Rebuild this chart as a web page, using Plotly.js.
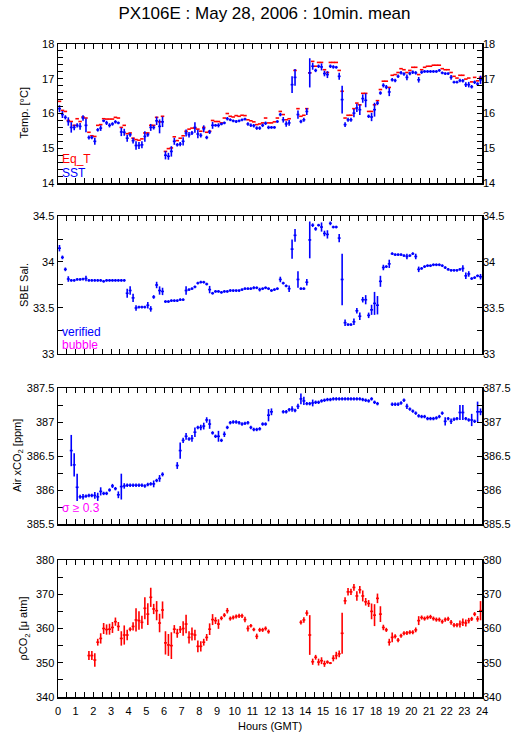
<!DOCTYPE html>
<html><head><meta charset="utf-8">
<script src="https://cdn.plot.ly/plotly-3.0.1.min.js"></script>
<style>html,body{margin:0;padding:0;background:#fff}#plot{width:529px;height:739px}</style>
</head><body><div id="plot"></div>
<script>
// 10-minute bins: centre time of each bin, minutes after 00:00 GMT
const minutes = [5,15,25,35,45,55,65,75,85,95,105,115,125,135,145,155,165,175,185,195,205,215,225,235,245,255,265,275,285,295,305,315,325,335,345,355,365,375,385,395,405,415,425,435,445,455,465,475,485,495,505,515,525,535,545,555,565,575,585,595,605,615,625,635,645,655,665,675,685,695,705,715,725,735,745,755,765,775,785,795,805,815,825,835,845,855,865,875,885,895,905,915,925,935,945,955,965,975,985,995,1005,1015,1025,1035,1045,1055,1065,1075,1085,1095,1105,1115,1125,1135,1145,1155,1165,1175,1185,1195,1205,1215,1225,1235,1245,1255,1265,1275,1285,1295,1305,1315,1325,1335,1345,1355,1365,1375,1385,1395,1405,1415,1425,1435];

const eqT = [16.35,16.09,16.06,15.80,15.77,15.66,15.85,15.77,15.90,15.87,15.46,15.36,15.34,15.66,15.68,15.85,15.84,15.84,15.84,15.89,15.87,15.60,15.66,15.42,15.44,15.29,15.25,15.23,15.27,15.44,15.44,15.66,15.66,15.89,15.76,15.92,14.91,14.99,15.01,15.33,15.22,15.29,15.36,15.49,15.55,15.58,15.58,15.55,15.49,15.60,15.46,15.49,15.80,15.77,15.77,15.73,15.87,16.00,15.92,15.90,15.94,15.92,15.95,15.94,15.82,15.79,15.76,15.68,15.70,15.73,15.87,15.73,15.73,15.76,15.87,16.06,15.97,15.82,15.85,null,17.24,16.14,15.92,15.95,16.14,17.17,17.50,17.36,17.47,17.47,17.26,17.18,17.47,17.47,17.47,17.24,16.64,15.87,15.95,15.95,16.14,16.30,16.25,16.58,16.58,16.06,16.06,16.25,16.37,16.69,16.93,16.93,16.75,17.10,17.12,17.18,17.29,17.26,17.18,17.24,17.33,17.33,17.12,17.26,17.33,17.36,17.36,17.39,17.39,17.39,17.29,17.26,17.26,17.18,17.07,17.02,17.10,17.10,16.99,17.02,16.91,17.04,16.94,17.04];

const sst = [16.14,15.97,15.89,15.77,15.60,15.60,15.66,15.63,15.87,15.66,15.31,15.31,15.20,15.53,15.58,15.79,15.73,15.66,15.70,15.76,15.73,15.47,15.46,15.29,15.39,15.22,15.08,15.08,15.10,15.34,15.39,15.60,15.60,15.79,15.63,15.76,14.80,14.77,14.91,15.20,15.10,15.12,15.20,15.44,15.39,15.44,15.60,15.41,15.37,15.56,15.31,15.47,15.66,15.66,15.66,15.70,15.73,15.85,15.82,15.79,15.77,15.79,15.82,15.84,15.70,15.66,15.65,15.58,15.58,15.66,15.72,15.60,15.60,15.60,15.77,15.97,15.82,15.70,15.73,16.83,17.04,15.97,15.77,15.82,16.06,17.17,17.36,17.24,17.36,17.34,17.15,17.12,17.36,17.34,17.33,17.07,16.40,15.68,15.82,15.82,16.01,16.16,16.11,16.43,16.38,15.92,15.90,16.11,16.30,16.59,16.81,16.76,16.62,16.97,16.95,17.07,17.17,17.14,17.04,17.15,17.19,17.17,16.97,17.19,17.21,17.21,17.21,17.21,17.21,17.24,17.17,17.15,17.15,17.04,16.90,16.90,16.95,16.94,16.83,16.83,16.77,16.90,16.85,16.97];

const sstErr = [0.10,0.10,0.06,0.12,0.15,0.08,0.06,0.10,0.08,0.20,0.06,0.05,0.10,0.05,0.08,0.04,0.06,0.06,0.05,0.05,0.04,0.12,0.10,0.10,0.06,0.08,0.12,0.10,0.10,0.15,0.06,0.10,0.06,0.12,0.20,0.15,0.12,0.10,0.15,0.10,0.05,0.06,0.12,0.10,0.08,0.06,0.15,0.12,0.06,0.10,0.05,0.06,0.10,0.04,0.06,0.04,0.04,0.05,0.04,0.04,0.04,0.04,0.04,0.04,0.05,0.05,0.05,0.05,0.05,0.05,0.05,0.05,0.04,0.04,0.04,0.05,0.08,0.08,0.08,0.24,0.24,0.12,0.05,0.06,0.10,0.42,0.10,0.05,0.05,0.10,0.08,0.10,0.05,0.05,0.04,0.10,0.40,0.07,0.06,0.06,0.12,0.12,0.15,0.12,0.20,0.05,0.12,0.20,0.06,0.05,0.06,0.06,0.12,0.05,0.05,0.05,0.05,0.05,0.08,0.05,0.05,0.05,0.08,0.05,0.04,0.04,0.04,0.04,0.04,0.04,0.04,0.04,0.04,0.07,0.04,0.04,0.05,0.05,0.07,0.08,0.05,0.05,0.05,0.12];

const sal = [34.15,34.05,33.92,33.815,33.80,33.80,33.81,33.81,33.815,33.82,33.80,33.80,33.80,33.80,33.80,33.79,33.80,33.80,33.80,33.80,33.80,33.80,33.80,33.66,33.69,33.61,33.50,33.51,33.51,33.51,33.53,33.49,33.62,33.75,33.69,33.68,33.57,33.57,33.58,33.58,33.58,33.59,33.59,33.69,33.70,33.71,33.73,33.77,33.78,33.78,33.76,33.70,33.66,33.68,33.68,33.67,33.68,33.68,33.69,33.69,33.69,33.69,33.70,33.71,33.71,33.71,33.72,33.72,33.70,33.71,33.72,33.71,33.69,33.70,33.71,33.81,33.77,33.74,33.71,34.14,34.29,33.81,33.71,33.71,33.78,34.24,34.40,34.36,34.40,34.38,34.31,34.30,34.42,34.38,34.38,34.26,33.81,33.34,33.32,33.32,33.35,33.47,33.41,33.59,33.59,33.42,33.48,33.55,33.53,33.79,33.94,33.95,33.98,34.09,34.08,34.08,34.08,34.07,34.06,34.07,34.09,34.06,33.92,33.93,33.95,33.96,33.96,33.97,33.97,33.97,33.96,33.94,33.92,33.91,33.91,33.91,33.92,33.93,33.85,33.87,33.82,33.83,33.85,33.84];

const salErr = [0.035,0.02,0.02,0.03,0.015,0.015,0.015,0.015,0.015,0.03,0.015,0.015,0.015,0.015,0.015,0.015,0.015,0.015,0.015,0.015,0.015,0.015,0.015,0.05,0.045,0.045,0.03,0.015,0.015,0.015,0.035,0.03,0.02,0.035,0.045,0.04,0.015,0.015,0.015,0.015,0.015,0.015,0.015,0.045,0.015,0.015,0.015,0.015,0.015,0.015,0.015,0.04,0.015,0.015,0.015,0.015,0.015,0.015,0.015,0.015,0.015,0.015,0.015,0.015,0.015,0.015,0.015,0.015,0.02,0.015,0.015,0.015,0.015,0.015,0.015,0.03,0.015,0.015,0.035,0.105,0.07,0.09,0.015,0.015,0.035,0.2,0.02,0.02,0.015,0.05,0.03,0.045,0.02,0.015,0.015,0.045,0.28,0.035,0.015,0.015,0.035,0.03,0.04,0.03,0.05,0.03,0.055,0.125,0.1,0.06,0.03,0.015,0.045,0.015,0.015,0.015,0.015,0.015,0.03,0.015,0.015,0.03,0.03,0.015,0.015,0.015,0.015,0.015,0.015,0.015,0.015,0.015,0.015,0.015,0.015,0.015,0.015,0.035,0.035,0.03,0.015,0.015,0.015,0.03];

const xco2 = [null,null,null,null,386.58,386.37,386.04,385.90,385.90,385.91,385.92,385.92,385.92,385.90,385.98,385.95,385.95,386.00,386.06,386.02,385.93,386.05,386.06,386.07,386.07,386.07,386.07,386.07,386.07,386.06,386.08,386.09,386.09,386.14,386.17,386.23,null,null,null,null,386.36,386.58,386.73,386.79,386.75,386.76,386.85,386.92,386.92,386.94,387.03,386.97,386.84,386.79,386.79,386.73,386.82,386.92,386.99,387.00,387.00,386.99,386.97,386.98,386.99,386.92,386.89,386.89,386.90,386.97,386.97,387.10,387.15,null,null,null,387.15,387.15,387.18,387.19,387.17,387.23,387.34,387.31,387.27,387.27,387.28,387.29,387.29,387.31,387.32,387.33,387.33,387.34,387.34,387.34,387.34,387.34,387.34,387.34,387.34,387.34,387.34,387.33,387.32,387.31,387.34,387.29,387.27,null,null,null,null,387.26,387.26,387.26,387.28,387.32,387.23,387.19,387.16,387.13,387.09,387.08,387.08,387.05,387.05,387.05,387.06,387.08,387.13,387.01,387.05,387.01,387.04,387.05,387.14,387.14,387.05,387.03,387.03,387.01,387.15,387.15];

const xco2Err = [0,0,0,0,0.23,0.17,0.2,0.03,0.04,0.025,0.025,0.025,0.05,0.06,0.06,0.025,0.025,0.025,0.03,0.025,0.05,0.19,0.04,0.025,0.025,0.025,0.025,0.025,0.025,0.025,0.025,0.025,0.05,0.025,0.05,0.03,0,0,0,0,0.05,0.12,0.04,0.05,0.025,0.05,0.07,0.025,0.04,0.05,0.04,0.07,0.025,0.025,0.08,0.025,0.04,0.025,0.025,0.025,0.025,0.025,0.025,0.025,0.025,0.025,0.025,0.025,0.025,0.025,0.025,0.09,0.05,0,0,0,0.025,0.025,0.025,0.04,0.025,0.04,0.08,0.06,0.025,0.025,0.05,0.025,0.025,0.025,0.025,0.025,0.025,0.025,0.025,0.025,0.025,0.025,0.025,0.025,0.025,0.025,0.025,0.025,0.025,0.025,0.025,0.025,0.025,0,0,0,0,0.025,0.025,0.025,0.025,0.025,0.04,0.025,0.025,0.025,0.025,0.025,0.025,0.025,0.025,0.025,0.025,0.025,0.025,0.06,0.025,0.04,0.025,0.025,0.11,0.11,0.025,0.025,0.09,0.025,0.15,0.05];

const pco2 = [null,null,null,null,null,null,null,null,null,null,352.1,352.1,350.8,356.0,357.1,360.0,359.7,359.8,360.3,362.0,360.6,357.1,358.1,358.1,359.8,360.6,362.5,362.3,361.8,365.9,364.2,369.1,365.7,365.2,361.6,365.4,355.8,355.2,355.0,359.8,358.6,359.7,360.0,361.3,357.4,358.4,358.1,354.8,354.8,356.0,357.4,359.8,362.6,362.3,361.3,363.0,363.9,365.2,362.9,363.2,363.5,363.7,363.7,362.6,360.0,360.8,359.7,357.7,359.6,359.6,360.0,359.1,null,null,null,null,null,null,null,null,null,null,361.8,362.5,364.5,358.1,350.3,351.6,350.2,350.6,349.7,350.2,349.9,351.3,352.1,352.6,358.6,368.1,370.7,370.7,372.0,369.5,371.3,369.5,367.8,367.3,365.0,363.9,368.8,364.2,360.3,359.6,356.0,357.4,357.7,356.6,357.9,358.6,358.7,358.9,358.9,359.6,362.3,363.2,362.9,363.2,363.4,362.9,362.6,362.6,362.0,362.6,362.8,361.8,361.0,361.0,361.3,361.8,361.6,362.3,362.8,364.2,362.8,365.2];

const pco2Err = [0,0,0,0,0,0,0,0,0,0,1.3,1.3,2.0,1.0,1.5,1.6,1.5,1.6,1.6,1.2,1.3,2.1,2.8,1.5,0.6,1.2,3.4,2.7,1.9,3.2,3.2,2.8,1.5,2.8,2.7,2.5,3.4,3.2,3.9,1.2,1.3,1.0,2.1,2.7,1.8,1.9,1.5,1.7,1.5,1.0,1.0,1.7,1.6,1.0,1.4,0.6,0.6,0.8,0.6,0.6,0.6,0.6,0.6,0.8,0.9,0.5,0.5,0.8,0.6,0.6,0.6,0.6,0,0,0,0,0,0,0,0,0,0,0.6,0.8,0.8,5.8,0.9,0.7,1.0,1.0,0.9,0.5,0.3,0.9,1.1,1.0,6.0,1.0,1.1,0.9,1.0,1.4,1.1,1.6,1.1,1.0,2.3,3.2,1.4,2.3,0.8,0.6,1.0,1.4,0.6,0.6,0.6,0.6,0.6,0.6,0.6,0.7,1.3,0.6,0.6,0.6,0.6,0.6,0.6,0.6,0.6,0.6,0.6,0.7,0.6,0.6,1.0,1.1,1.0,0.8,0.6,0.6,0.8,2.8];

const hourLabels = ['0','1','2','3','4','5','6','7','8','9','10','11','12','13','14','15','16','17','18','19','20','21','22','23','24'];

const hours = minutes.map(m => m / 60);
const BLUE = '#0000ff', RED = '#ff0000', MAG = '#ff00ff';
const FONT = 'Liberation Sans, Arial, Helvetica, sans-serif';

function crosses(y, err, color, xa, ya) {
  return {type:'scatter', mode:'markers', x:hours, y:y, xaxis:xa, yaxis:ya,
    marker:{size:2, color:color, opacity:0}, showlegend:false, hoverinfo:'skip',
    error_y:{type:'data', array:err, visible:true, color:color, thickness:1.6, width:0},
    error_x:{type:'constant', value:5/60, visible:true, color:color, thickness:1.6, width:0}};
}
function dashes(y, color, xa, ya) {
  return {type:'scatter', mode:'markers', x:hours, y:y, xaxis:xa, yaxis:ya,
    marker:{size:2, color:color, opacity:0}, showlegend:false, hoverinfo:'skip',
    error_x:{type:'constant', value:6/60, visible:true, color:color, thickness:1.6, width:0}};
}
function dummy(xa, ya){ return {type:'scatter', mode:'markers', x:[0], y:[null], xaxis:xa, yaxis:ya, showlegend:false, hoverinfo:'skip'}; }

function tickSet(lo, hi, step, labelEvery, decimals) {
  const vals = [], txt = [];
  const n = Math.round((hi - lo) / step);
  for (let k = 0; k <= n; k++) {
    const v = +(lo + k * step).toFixed(4);
    vals.push(v);
    txt.push(k % labelEvery === 0 ? v.toFixed(decimals) : '');
  }
  return {vals, txt};
}

const hx = {vals:[], txt:[]};
for (let k = 0; k <= 48; k++) { hx.vals.push(k/2); hx.txt.push(k % 2 === 0 ? hourLabels[k/2] : ''); }

function xAxis(anchor, labels) {
  return {anchor:anchor, range:[0,24], tickmode:'array', tickvals:hx.vals, ticktext:hx.txt,
    showticklabels:labels, ticks:'inside', ticklen:5, tickwidth:1, tickcolor:'#000',
    showline:true, linecolor:'#000', linewidth:1.5, mirror:'ticks', showgrid:false, zeroline:false,
    ticklabelstandoff:3, automargin:false,
    tickfont:{family:FONT, size:11, color:'#000'}, fixedrange:true};
}
function yAxis(domain, range, ts, anchor) {
  return {domain:domain, range:range, anchor:anchor, tickmode:'array', tickvals:ts.vals, ticktext:ts.txt,
    ticks:'inside', ticklen:5, tickwidth:1, tickcolor:'#000', showline:true, linecolor:'#000', linewidth:1.5,
    mirror:'ticks', showgrid:false, zeroline:false, automargin:false, fixedrange:true,
    tickfont:{family:FONT, size:11, color:'#000'}};
}
function yRight(over, range, ts, anchor) {
  return {overlaying:over, side:'right', anchor:anchor, range:range, tickmode:'array', tickvals:ts.vals, ticktext:ts.txt,
    ticks:'', showline:false, showgrid:false, zeroline:false, automargin:false, fixedrange:true,
    tickfont:{family:FONT, size:11, color:'#000'}};
}

const t1 = tickSet(14, 18, 0.2, 5, 0);
const t2 = tickSet(33, 34.5, 0.25, 2, 1);
const t3 = tickSet(385.5, 387.5, 0.25, 2, 1);
const t4 = tickSet(340, 380, 5, 2, 0);
const t2r = {vals:t2.vals, txt:t2.txt.map(s => s.endsWith('.0') ? s.slice(0,-2) : s)};
const t3r = {vals:t3.vals, txt:t3.txt.map(s => s.endsWith('.0') ? s.slice(0,-2) : s)};

const D1 = [0.7871, 1.0], D2 = [0.5253, 0.7366], D3 = [0.2649, 0.4732], D4 = [0, 0.2098];

const data = [
  dashes(eqT, RED, 'x', 'y'),
  crosses(sst, sstErr, BLUE, 'x', 'y'),
  crosses(sal, salErr, BLUE, 'x2', 'y2'),
  crosses(xco2, xco2Err, BLUE, 'x3', 'y3'),
  crosses(pco2, pco2Err, RED, 'x4', 'y4'),
  dummy('x','y5'), dummy('x2','y6'), dummy('x3','y7'), dummy('x4','y8')
];

const TF = {family:FONT, size:11, color:'#000'};
function yTitle(text, yc, xpx) {
  return {text:text, xref:'paper', yref:'paper', x:(xpx - 58) / 424, y:yc, xanchor:'center', yanchor:'middle',
    textangle:-90, showarrow:false, font:TF};
}

const layout = {
  width:529, height:739, paper_bgcolor:'#fff', plot_bgcolor:'#fff',
  margin:{l:58, r:47, t:44, b:42}, showlegend:false,
  font:{family:FONT, size:11, color:'#000'},
  title:{text:'PX106E : May 28, 2006 : 10min. mean', font:{family:FONT, size:17, color:'#000'},
    x:0.5, xanchor:'center', y:0.982, yanchor:'middle'},
  xaxis: xAxis('y', false), xaxis2: xAxis('y2', false), xaxis3: xAxis('y3', false), xaxis4: xAxis('y4', true),
  yaxis: yAxis(D1, [14,18], t1, 'x'),
  yaxis2: yAxis(D2, [33,34.5], t2r, 'x2'),
  yaxis3: yAxis(D3, [385.5,387.5], t3r, 'x3'),
  yaxis4: yAxis(D4, [340,380], t4, 'x4'),
  yaxis5: yRight('y', [14,18], t1, 'x'),
  yaxis6: yRight('y2', [33,34.5], t2r, 'x2'),
  yaxis7: yRight('y3', [385.5,387.5], t3r, 'x3'),
  yaxis8: yRight('y4', [340,380], t4, 'x4'),
  annotations: [
    yTitle('Temp. [°C]', (D1[0]+D1[1])/2, 24),
    yTitle('SBE Sal.', (D2[0]+D2[1])/2, 24),
    yTitle('Air xCO<sub>2</sub> [ppm]', (D3[0]+D3[1])/2, 18),
    yTitle('ρCO<sub>2</sub> [μ atm]', (D4[0]+D4[1])/2, 24),
    {text:'Hours (GMT)', xref:'paper', yref:'paper', x:0.5, y:-29/653, xanchor:'center', yanchor:'middle', showarrow:false, font:TF},
    {text:'Eq_T', xref:'x domain', yref:'y domain', x:0.005, y:0.17, xanchor:'left', yanchor:'middle', showarrow:false, font:{family:FONT, size:12, color:RED}},
    {text:'SST', xref:'x domain', yref:'y domain', x:0.005, y:0.07, xanchor:'left', yanchor:'middle', showarrow:false, font:{family:FONT, size:12, color:BLUE}},
    {text:'verified', xref:'x2 domain', yref:'y2 domain', x:0.005, y:0.16, xanchor:'left', yanchor:'middle', showarrow:false, font:{family:FONT, size:12, color:BLUE}},
    {text:'bubble', xref:'x2 domain', yref:'y2 domain', x:0.005, y:0.065, xanchor:'left', yanchor:'middle', showarrow:false, font:{family:FONT, size:12, color:MAG}},
    {text:'σ ≥ 0.3', xref:'x3 domain', yref:'y3 domain', x:0.005, y:0.12, xanchor:'left', yanchor:'middle', showarrow:false, font:{family:FONT, size:12, color:MAG}}
  ]
};

Plotly.newPlot('plot', data, layout, {staticPlot:true, displayModeBar:false});
</script>
</body></html>
